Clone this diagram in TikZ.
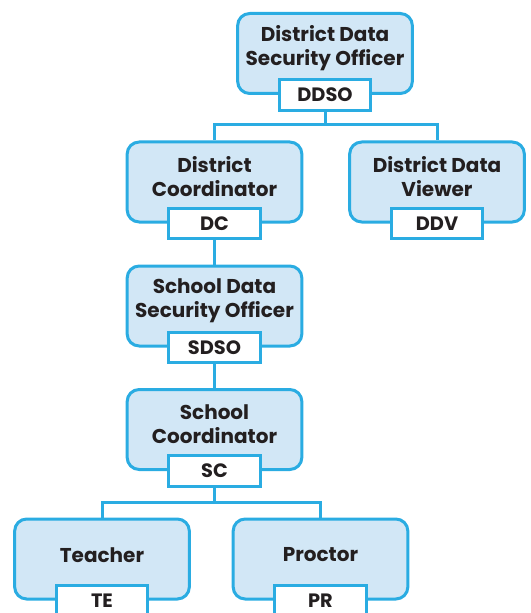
\documentclass[tikz,border=0pt]{standalone}
\usepackage{fontspec}
\setmainfont{Poppins}
\definecolor{edge}{HTML}{2AACE2}
\definecolor{boxfill}{HTML}{D2E7F6}
\definecolor{ink}{HTML}{231F20}
\tikzset{
  rolebox/.style={draw=edge, fill=boxfill, line width=2.25pt, rounded corners=9pt,
    minimum width=131pt, minimum height=60pt, inner sep=0pt},
  codebox/.style={draw=edge, fill=white, line width=2.25pt,
    minimum width=68.5pt, minimum height=23pt, inner sep=0pt,
    font=\fontsize{14.5pt}{16pt}\selectfont\bfseries, text=ink},
  roletext/.style={align=center, font=\fontsize{15pt}{17.5pt}\selectfont\bfseries, text=ink, inner sep=0pt},
  link/.style={draw=edge, line width=2.25pt}
}
\begin{document}
\begin{tikzpicture}[x=0.75pt,y=-0.75pt]
\useasboundingbox (0,0) rectangle (531,613);
% boxes
\node[rolebox] (ddso) at (325,53.5) {};
\node[rolebox] (dc) at (214.5,182) {};
\node[rolebox] (ddv) at (437,182) {};
\node[rolebox] (sdso) at (214.5,306) {};
\node[rolebox] (sc) at (214.5,429.5) {};
\node[rolebox] (te) at (102,559) {};
\node[rolebox] (pr) at (320.5,559) {};
% texts
\node[roletext] (ddsot) at ([yshift=4pt]ddso.center) {District Data\\Security Officer};
\node[roletext] (dct) at ([yshift=4pt]dc.center) {District\\Coordinator};
\node[roletext] (ddvt) at ([yshift=4pt]ddv.center) {District Data\\Viewer};
\node[roletext] (sdsot) at ([yshift=4pt]sdso.center) {School Data\\Security Officer};
\node[roletext] (sct) at ([yshift=4pt]sc.center) {School\\Coordinator};
\node[roletext] (tet) at ([yshift=3pt]te.center) {Teacher};
\node[roletext] (prt) at ([yshift=3pt]pr.center) {Proctor};
% code labels
\node[codebox] (ddsol) at (ddso.south) {DDSO};
\node[codebox] (dcl) at (dc.south) {DC};
\node[codebox] (ddvl) at (ddv.south) {DDV};
\node[codebox] (sdsol) at (sdso.south) {SDSO};
\node[codebox] (scl) at (sc.south) {SC};
\node[codebox] (tel) at (te.south) {TE};
\node[codebox] (prl) at (pr.south) {PR};
% connectors
\coordinate (j1) at (325,125);
\coordinate (j2) at (214.5,502);
\draw[link] (ddsol.south) -- (j1);
\draw[link] (j1) -| (dc.north);
\draw[link] (j1) -| (ddv.north);
\draw[link] (dcl.south) -- (sdso.north);
\draw[link] (sdsol.south) -- (sc.north);
\draw[link] (scl.south) -- (j2);
\draw[link] (j2) -| (te.north);
\draw[link] (j2) -| (pr.north);
\end{tikzpicture}
\end{document}
